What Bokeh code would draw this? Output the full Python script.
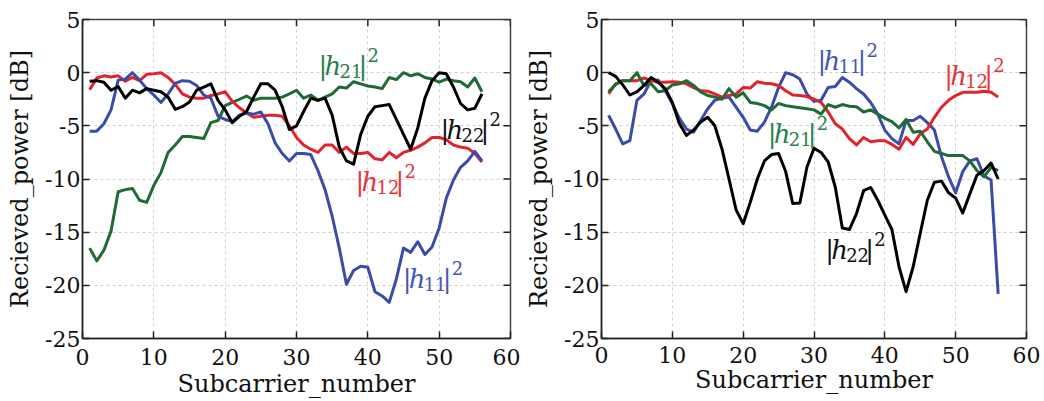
from bokeh.plotting import figure
from bokeh.layouts import row
from bokeh.models import FixedTicker, Label, Range1d
from bokeh.embed import file_html
from bokeh.resources import INLINE

subcarrier = list(range(1, 57))

# ---- left panel ----
L_h11 = [-5.5, -5.5, -4.8, -3.5, -0.7, -0.6, 0.0, -0.7, -1.5, -2.1,
         -2.8, -2.0, -1.0, -0.75, -0.8, -1.2, -2.1, -2.4, -4.1, -4.4,
         -4.6, -4.0, -3.8, -3.9, -3.7, -4.8, -6.6, -7.6, -8.3, -7.6,
         -7.6, -7.7, -9.2, -11.0, -13.5, -16.5, -19.9, -18.6, -18.2, -18.3,
         -20.6, -21.0, -21.6, -19.4, -16.5, -16.9, -15.9, -17.1, -16.4, -14.6,
         -11.8, -10.1, -8.9, -8.3, -7.4, -8.3]
L_h12 = [-1.6, -0.5, -0.3, -0.4, -0.3, -0.8, -0.45, -0.75, -0.15, -0.1,
         0.0, -0.45, -1.1, -2.0, -2.3, -2.4, -2.4, -2.15, -2.0, -1.8,
         -2.7, -3.3, -3.8, -4.2, -4.1, -4.0, -4.0, -4.1, -5.0, -6.1,
         -6.8, -7.2, -7.5, -6.8, -6.8, -7.5, -7.0, -7.6, -7.6, -7.5,
         -8.1, -8.2, -7.5, -8.0, -7.5, -7.3, -7.0, -6.6, -6.1, -6.1,
         -6.3, -6.8, -7.0, -7.1, -7.6, -8.4]
L_h21 = [-16.5, -17.7, -16.7, -14.9, -11.2, -11.0, -10.9, -12.0, -12.2, -10.6,
         -9.4, -7.5, -6.8, -6.0, -6.0, -6.1, -6.2, -4.7, -4.5, -3.1,
         -2.8, -2.5, -2.2, -2.6, -2.4, -2.4, -2.4, -2.3, -2.0, -1.65,
         -2.4, -2.1, -2.6, -2.3, -2.0, -1.35, -1.45, -0.85, -1.05, -1.25,
         -1.35, -1.5, -0.45, -0.65, 0.0, -0.3, -0.1, -0.45, -0.6, -0.9,
         -0.6, -0.75, -0.85, -1.35, -0.5, -1.8]
L_h22 = [-0.8, -0.75, -0.9, -1.65, -1.3, -2.4, -1.65, -1.9, -1.5, -1.65,
         -1.8, -2.3, -3.45, -3.2, -2.75, -1.65, -1.35, -1.05, -2.6, -3.5,
         -4.7, -4.1, -3.65, -2.3, -1.05, -1.05, -1.65, -3.2, -5.35, -5.0,
         -3.65, -2.4, -2.6, -2.4, -4.0, -7.0, -8.3, -8.6, -5.8, -4.1,
         -3.2, -3.1, -3.0, -4.4, -5.8, -7.2, -5.2, -2.4, -0.75, 0.0,
         -0.1, -1.35, -2.9, -3.5, -3.35, -2.0]

# ---- right panel ----
R_h11 = [-4.0, -5.3, -6.7, -6.4, -2.6, -2.0, -0.75, -0.7, -1.7, -2.9,
         -4.3, -5.3, -5.6, -4.5, -3.4, -2.6, -2.4, -2.3, -3.25, -4.2,
         -5.4, -5.5, -4.65, -3.25, -1.4, 0.0, -0.2, -0.6, -2.0, -2.7,
         -2.6, -1.4, -1.3, -0.45, -0.9, -1.5, -2.0, -2.8, -3.9, -5.4,
         -6.2, -6.7, -4.5, -4.5, -4.1, -4.7, -5.4, -7.9, -9.8, -11.3,
         -9.3, -8.3, -8.1, -9.7, -10.1, -20.8]
R_h12 = [-2.0, -1.05, -0.75, -0.75, -0.75, -0.5, -0.75, -0.9, -0.9, -0.85,
         -0.9, -1.05, -1.4, -1.7, -1.75, -2.0, -2.3, -2.15, -2.0, -1.4,
         -1.45, -0.85, -1.0, -1.05, -1.2, -1.7, -2.1, -2.15, -2.25, -2.5,
         -2.8, -3.7, -4.8, -5.3, -6.2, -6.8, -6.1, -6.5, -6.4, -6.4,
         -6.75, -7.2, -6.1, -6.75, -5.75, -5.3, -4.2, -3.25, -2.6, -2.15,
         -1.85, -1.85, -1.85, -1.75, -1.85, -2.3]
R_h21 = [-1.8, -1.1, -0.75, -0.75, 0.0, -1.2, -1.05, -1.8, -1.7, -1.15,
         -1.05, -0.75, -1.2, -1.8, -2.15, -2.3, -2.5, -1.5, -2.3, -1.9,
         -2.8, -2.9, -3.1, -3.5, -2.9, -3.1, -3.2, -3.3, -3.4, -3.5,
         -3.9, -3.0, -3.25, -3.0, -3.15, -3.2, -3.7, -3.5, -3.9, -4.3,
         -4.6, -5.2, -4.4, -5.6, -5.5, -6.5, -7.4, -7.6, -7.8, -7.8,
         -7.8, -8.3, -9.2, -9.8, -8.9, -9.2]
R_h22 = [0.0, -0.35, -1.15, -2.1, -1.8, -1.2, -0.45, -0.9, -1.5, -2.8,
         -4.8, -5.9, -5.4, -4.65, -4.2, -5.0, -7.15, -10.0, -12.9, -14.2,
         -12.2, -10.0, -8.3, -7.7, -7.6, -9.3, -12.3, -12.25, -8.9, -7.1,
         -7.5, -8.4, -10.75, -14.6, -14.75, -13.25, -11.1, -10.8, -12.0, -13.4,
         -14.75, -18.25, -20.6, -18.25, -15.1, -12.0, -10.3, -10.2, -11.3, -11.8,
         -13.2, -11.4, -9.65, -9.2, -8.5, -10.0]

x_ticks = [0, 10, 20, 30, 40, 50, 60]
y_ticks = [-25, -20, -15, -10, -5, 0, 5]
x_label = "Subcarrier_number"
y_label = "Recieved_power [dB]"

# annotation labels: (subscript, left x, baseline y) per panel
L_labels = [("21", 33.5, -0.35), ("22", 50.6, -6.3), ("12", 38.7, -11.2), ("11", 45.3, -20.3)]
R_labels = [("11", 30.9, 0.2), ("12", 48.8, -1.3), ("21", 23.9, -6.7), ("22", 32.0, -17.6)]

COL = {"11": "#3a4ca8", "12": "#e3232b", "21": "#1e6b35", "22": "#000000"}
TXT = {"11": "#4656b3", "12": "#e8333a", "21": "#27814a", "22": "#111111"}
FONT = "DejaVu Serif"
TICK = 7  # px, inward tick length


def style_axis(ax, is_y, bottom_standoff=10, label_standoff=2):
    ax.major_tick_in = TICK
    ax.major_tick_out = 0
    ax.minor_tick_line_color = None
    ax.axis_line_color = "#222222"
    ax.axis_line_width = 1.5
    ax.major_tick_line_color = "#222222"
    ax.major_tick_line_width = 1.5
    ax.major_label_text_font = FONT
    ax.axis_label_text_font = FONT
    ax.axis_label_text_font_style = "normal"
    ax.major_label_text_color = "#111111"
    ax.axis_label_text_color = "#111111"
    ax.major_label_text_font_size = "22px"
    ax.axis_label_text_font_size = "24px"
    if is_y:
        ax.major_label_standoff = 2
        ax.axis_label_standoff = 8
    else:
        ax.major_label_standoff = bottom_standoff
        ax.axis_label_standoff = label_standoff


BASE_DY = 10  # px lift so the glyph baseline sits on the anchor


def hlabel(p, sub, x, y):
    c = TXT[sub]
    parts = [
        ("|", -3, 0, "26px", "normal"),
        ("h", 3, 0, "26px", "italic"),
        (sub, 18, -5, "18px", "normal"),
        ("|", 37, 0, "26px", "normal"),
        ("2", 46, 11, "18px", "normal"),
    ]
    for t, dx, dy, fs, st in parts:
        p.add_layout(Label(x=x, y=y, x_offset=dx, y_offset=dy + BASE_DY, text=t,
                           text_font=FONT, text_font_size=fs, text_font_style=st,
                           text_color=c, text_baseline="alphabetic", text_align="left"))


def panel(series, labels, width, height, bl, br, bt, bb, xs, xl):
    p = figure(width=width, height=height, output_backend="svg", toolbar_location=None,
               x_range=Range1d(0, 60), y_range=Range1d(-25, 5),
               min_border_left=bl, min_border_right=br, min_border_top=bt, min_border_bottom=bb,
               x_axis_label=x_label, y_axis_label=y_label)
    p.background_fill_color = "white"
    p.border_fill_color = "white"
    p.outline_line_color = "#444444"
    p.outline_line_width = 1.5
    for ax in p.xaxis:
        ax.ticker = FixedTicker(ticks=x_ticks)
        ax.major_label_overrides = {t: str(t) for t in x_ticks}
        style_axis(ax, False, xs, xl)
    for ax in p.yaxis:
        ax.ticker = FixedTicker(ticks=y_ticks)
        ax.major_label_overrides = {t: str(t) for t in y_ticks}
        style_axis(ax, True)
    for g in (p.xgrid[0], p.ygrid[0]):
        g.grid_line_color = "#d0d0d0"
        g.grid_line_dash = "3 3"
        g.grid_line_width = 1
    p.xgrid[0].ticker = FixedTicker(ticks=x_ticks)
    p.ygrid[0].ticker = FixedTicker(ticks=y_ticks)

    # inward ticks on the top and right frame edges
    fw = width - bl - br
    fh = height - bt - bb
    xr, yr = p.x_range, p.y_range
    dy = TICK * (yr.end - yr.start) / fh
    dx = TICK * (xr.end - xr.start) / fw
    p.segment(x0=x_ticks, y0=[yr.end] * len(x_ticks), x1=x_ticks, y1=[yr.end - dy] * len(x_ticks),
              line_color="#222222", line_width=1.5)
    p.segment(x0=[xr.end] * len(y_ticks), y0=y_ticks, x1=[xr.end - dx] * len(y_ticks), y1=y_ticks,
              line_color="#222222", line_width=1.5)

    for key, vals in series:
        p.line(subcarrier, vals, line_color=COL[key], line_width=3, line_join="round")
    for sub, x, y in labels:
        hlabel(p, sub, x, y)
    return p


p1 = panel([("21", L_h21), ("12", L_h12), ("11", L_h11), ("22", L_h22)], L_labels,
           520, 400, 82, 10, 16, 59, 10, 2)
p2 = panel([("11", R_h11), ("12", R_h12), ("21", R_h21), ("22", R_h22)], R_labels,
           524, 400, 81, 18, 19, 61, 8, 0)

layout = row(p1, p2)
open("out.html", "w").write(file_html(layout, INLINE))
